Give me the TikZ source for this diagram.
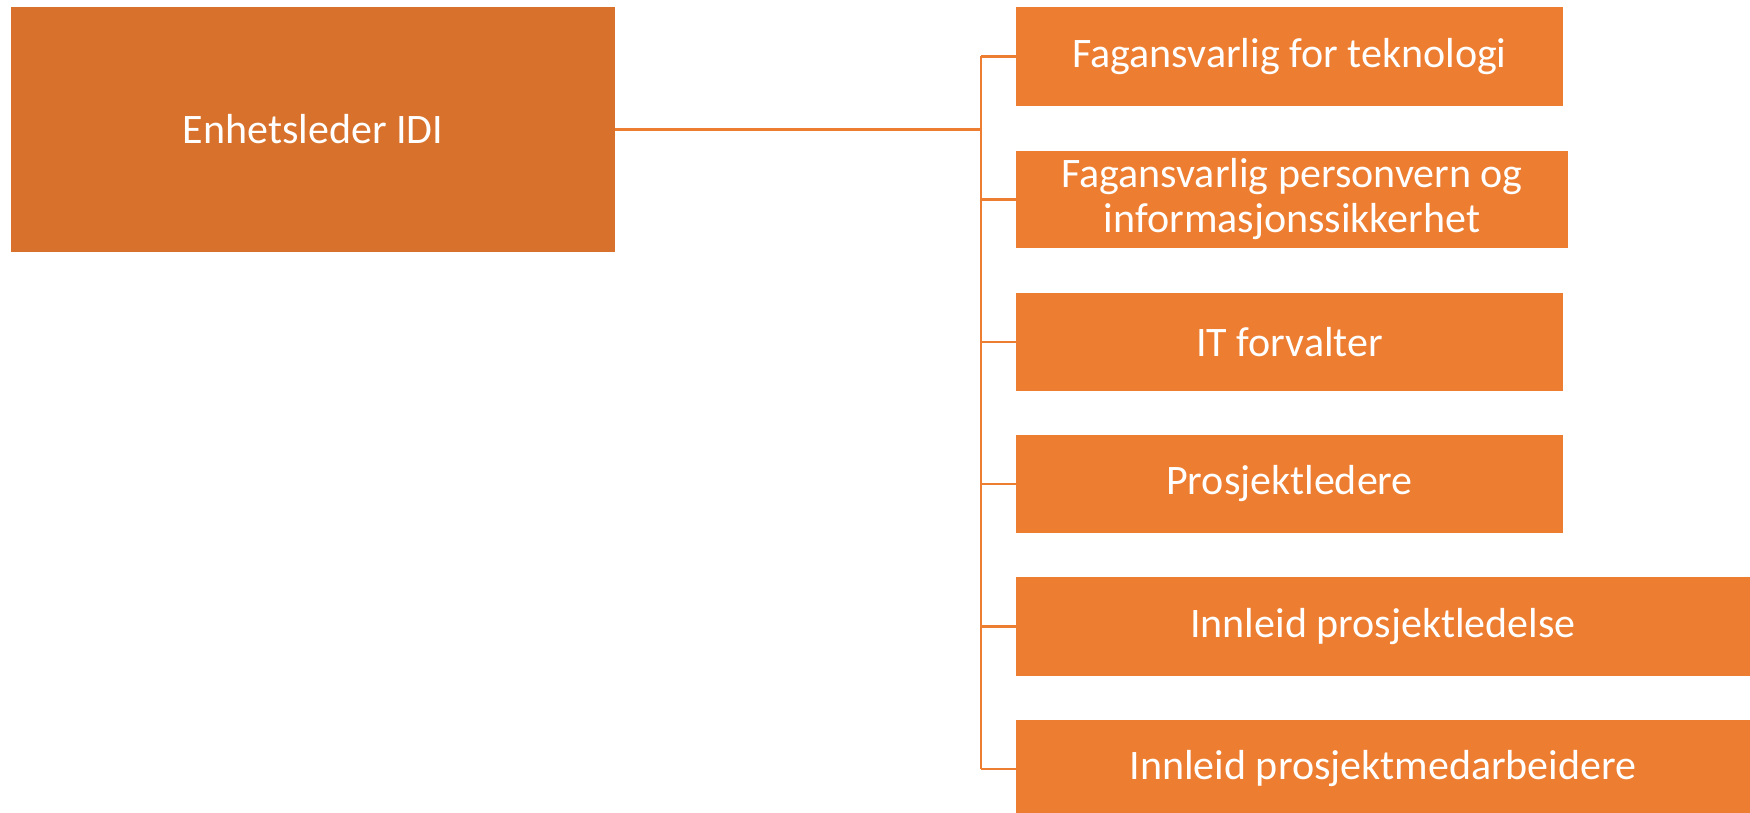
\documentclass[tikz,border=0pt]{standalone}
\usepackage{fontspec}
\setmainfont{Carlito}
\definecolor{headorange}{HTML}{D7712B}
\definecolor{unitorange}{HTML}{ED7D31}
\tikzset{
  orgbox/.style={rectangle, inner sep=0pt, draw=none, text=white, align=center,
    font=\fontsize{21pt}{22.5pt}\selectfont},
  headbox/.style={orgbox, fill=headorange},
  unitbox/.style={orgbox, fill=unitorange},
  link/.style={draw=unitorange, line width=1.25pt}
}
\begin{document}
\begin{tikzpicture}[x=0.5pt, y=-0.5pt]
  \useasboundingbox (0,0) rectangle (1750,813);

  % head of unit
  \node[headbox, minimum width=302pt, minimum height=122.5pt] (head) at (313,129.5) {Enhetsleder IDI};

  % subordinate roles
  \node[unitbox, minimum width=273.5pt, minimum height=49.5pt] (b1) at (1289.5,56.5) {Fagansvarlig for teknologi};
  \node[unitbox, minimum width=276pt, minimum height=48.5pt] (b2) at (1292,199.5) {Fagansvarlig personvern og\\informasjonssikkerhet};
  \node[unitbox, minimum width=273.5pt, minimum height=49pt] (b3) at (1289.5,342) {IT forvalter};
  \node[unitbox, minimum width=273.5pt, minimum height=49pt] (b4) at (1289.5,484) {Prosjektledere};
  \node[unitbox, minimum width=367pt, minimum height=49.5pt] (b5) at (1383,626.5) {Innleid prosjektledelse};
  \node[unitbox, minimum width=367pt, minimum height=49pt] (b6) at (1383,769) {Innleid prosjektmedarbeidere};

  % x position of the vertical spine
  \coordinate (spine) at (981,0);

  % connectors
  \draw[link] (head.east) -- (head.east -| spine);
  \draw[link] (b1.west -| spine) -- (b6.west -| spine);
  \foreach \b in {b1,b2,b3,b4,b5,b6}
    \draw[link] (\b.west -| spine) -- (\b.west);
\end{tikzpicture}
\end{document}
